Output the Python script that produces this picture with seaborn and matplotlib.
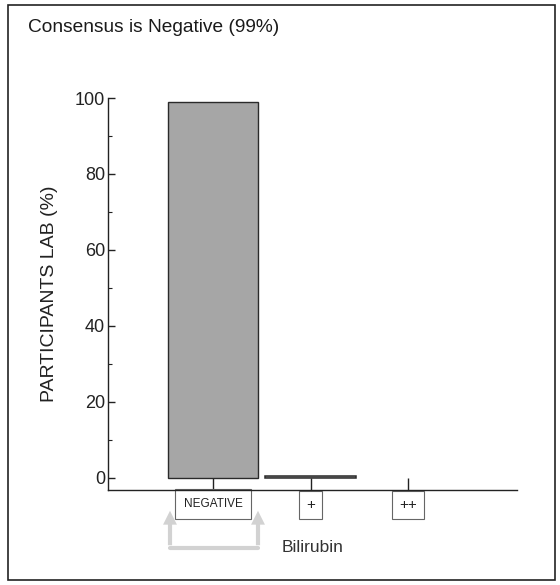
import matplotlib
matplotlib.use("Agg")
import matplotlib.pyplot as plt
import seaborn as sns
from matplotlib.patches import Rectangle
from matplotlib.ticker import MultipleLocator

# --- Datos ---
categories = ["NEGATIVE", "+", "++"]
percent_labs = [99.0, 0.5, 0.0]
yticks = [0, 20, 40, 60, 80, 100]

TITLE = "Consensus is Negative (99%)"
YLABEL = "PARTICIPANTS LAB (%)"
XLABEL = "Bilirubin"

sns.set_style("ticks")
plt.rcParams["font.family"] = ["Liberation Sans", "DejaVu Sans"]

fig = plt.figure(figsize=(5.6, 5.85), dpi=100)
ax = fig.add_axes([108 / 560, 1 - 490 / 585, (517 - 108) / 560, (490 - 98) / 585])

sns.barplot(x=categories, y=percent_labs, ax=ax, color="#a6a6a6",
            edgecolor="#2a2a2a", linewidth=1.0, width=0.93, saturation=1)

# las barras con valor cero no se dibujan
for bar, val in zip(ax.patches, percent_labs):
    if val == 0:
        bar.set_visible(False)
    elif val < 2:
        bar.set_linewidth(1.1)

ax.set_xlim(-1.08, 3.12)
ax.set_ylim(-3.2, 100)
ax.set_yticks(yticks)
ax.yaxis.set_minor_locator(MultipleLocator(10))
ax.set_yticklabels([str(v) for v in yticks], fontsize=13,
                   family=["Liberation Sans Narrow", "Liberation Sans"])

for side in ["top", "right"]:
    ax.spines[side].set_visible(False)
for side in ["left", "bottom"]:
    ax.spines[side].set_color("#222222")
    ax.spines[side].set_linewidth(1.0)

ax.tick_params(axis="y", which="major", direction="in", length=5, width=1, pad=2, colors="#222222")
ax.tick_params(axis="y", which="minor", direction="in", length=3, width=0.8, colors="#222222")
ax.tick_params(axis="x", which="major", direction="in", length=9, width=1, pad=6, colors="#222222")

# Etiquetas del eje x en recuadros
ax.set_xticks(range(len(categories)))
ax.set_xticklabels(categories)
for lab in ax.get_xticklabels():
    if lab.get_text() == "NEGATIVE":
        lab.set_fontsize(8.5)
        lab.set_fontfamily(["Liberation Sans Narrow", "Liberation Sans"])
        lab.set_bbox(dict(facecolor="white", edgecolor="#666666", boxstyle="square,pad=0.75", lw=0.8))
    else:
        lab.set_fontsize(11)
        lab.set_bbox(dict(facecolor="white", edgecolor="#666666", boxstyle="square,pad=0.45", lw=0.8))

ax.set_xlabel(XLABEL, fontsize=12.5, color="#333333", labelpad=20)
ax.set_ylabel(YLABEL, fontsize=14, color="#222222", labelpad=12)

# Flechas grises bajo NEGATIVE
arrow_kw = dict(arrowstyle="simple,head_width=1.0,head_length=1.0,tail_width=0.3",
                color="#d2d2d2", lw=0)
for xp in [170, 258]:
    ax.annotate("", xy=(xp, 585 - 508), xycoords="figure pixels",
                xytext=(xp, 585 - 548), textcoords="figure pixels", arrowprops=arrow_kw)
fig.add_artist(plt.Line2D([170 / 560, 258 / 560], [1 - 548 / 585] * 2,
                          transform=fig.transFigure, color="#d2d2d2", lw=3))

# Título y marco
fig.text(28 / 560, 1 - 28 / 585, TITLE, fontsize=13.8, va="center", ha="left", color="#1a1a1a")
fig.add_artist(Rectangle((8 / 560, 1 - 580 / 585), 547 / 560, 575 / 585,
                         transform=fig.transFigure, fill=False, edgecolor="#222222", lw=1.2))

fig.savefig("out.png", dpi=100)
plt.close(fig)
